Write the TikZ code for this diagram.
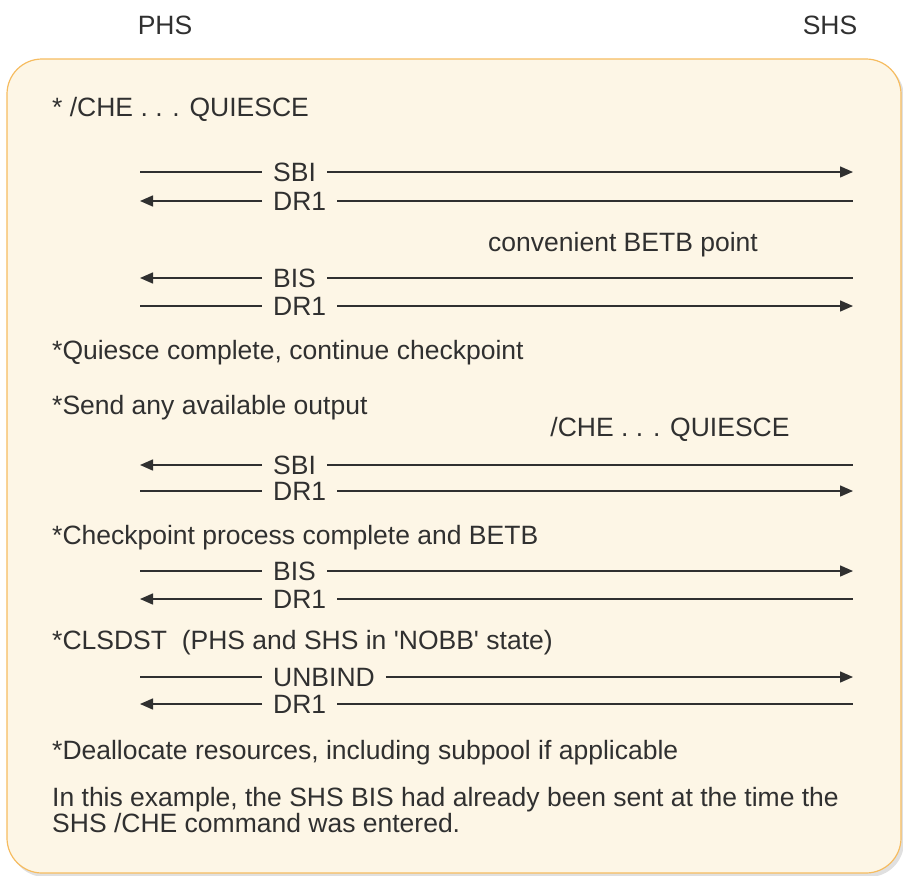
\documentclass[tikz,border=0pt]{standalone}
\usepackage{fontspec}
\setmainfont{Liberation Sans}
\usepackage{tikz}
\usetikzlibrary{arrows.meta}

\definecolor{boxfill}{HTML}{FDF6E6}
\definecolor{boxline}{HTML}{F6BC60}
\definecolor{ink}{HTML}{303030}

\begin{document}
\begin{tikzpicture}[x=1pt,y=-1pt,
  every node/.style={font=\fontsize{26.5}{27}\selectfont, text=ink},
  msg/.style={anchor=west, inner xsep=11pt, inner ysep=0pt, text height=19pt, text depth=0pt},
  note/.style={anchor=base west, inner sep=0pt},
  flow/.style={draw=ink, line width=1.5pt},
  tip/.style={-{Triangle[length=13pt,width=11pt]}}]
\useasboundingbox (0,0) rectangle (903,876);

% Hosts
\node[note, anchor=base] (phs) at (165,34) {PHS};
\node[note, anchor=base] (shs) at (830,34) {SHS};

% Frame
\fill[black!12, rounded corners=35pt] (10,62) rectangle (904,877);
\draw[boxline, fill=boxfill, line width=1.2pt, rounded corners=35pt] (7,59) rectangle (901,873);

% Quiesce request
\node[note] (che1) at (52,116) {* /CHE . . . QUIESCE};
\coordinate (p1) at (140,172); \node[msg] (m1) at (262,172) {SBI}; \coordinate (s1) at (853,172);
\draw[flow] (p1) -- (m1.west); \draw[flow, tip] (m1.east) -- (s1);
\coordinate (p2) at (140,201); \node[msg] (m2) at (262,201) {DR1}; \coordinate (s2) at (853,201);
\draw[flow, tip] (m2.west) -- (p2); \draw[flow] (m2.east) -- (s2);

\node[note, anchor=base] (betb) at (623,251) {convenient BETB point};
\coordinate (p3) at (140,278); \node[msg] (m3) at (262,278) {BIS}; \coordinate (s3) at (853,278);
\draw[flow, tip] (m3.west) -- (p3); \draw[flow] (m3.east) -- (s3);
\coordinate (p4) at (140,306); \node[msg] (m4) at (262,306) {DR1}; \coordinate (s4) at (853,306);
\draw[flow] (p4) -- (m4.west); \draw[flow, tip] (m4.east) -- (s4);

% Checkpoint
\node[note] (qdone) at (52,359) {*Quiesce complete, continue checkpoint};
\node[note] (send) at (52,414) {*Send any available output};
\node[note, anchor=base] (che2) at (670,436) {/CHE . . . QUIESCE};
\coordinate (p5) at (140,465); \node[msg] (m5) at (262,465) {SBI}; \coordinate (s5) at (853,465);
\draw[flow, tip] (m5.west) -- (p5); \draw[flow] (m5.east) -- (s5);
\coordinate (p6) at (140,491); \node[msg] (m6) at (262,491) {DR1}; \coordinate (s6) at (853,491);
\draw[flow] (p6) -- (m6.west); \draw[flow, tip] (m6.east) -- (s6);

\node[note] (cdone) at (52,544) {*Checkpoint process complete and BETB};
\coordinate (p7) at (140,571); \node[msg] (m7) at (262,571) {BIS}; \coordinate (s7) at (853,571);
\draw[flow] (p7) -- (m7.west); \draw[flow, tip] (m7.east) -- (s7);
\coordinate (p8) at (140,599); \node[msg] (m8) at (262,599) {DR1}; \coordinate (s8) at (853,599);
\draw[flow, tip] (m8.west) -- (p8); \draw[flow] (m8.east) -- (s8);

% Session end
\node[note] (clsdst) at (52,649) {*CLSDST\ \ (PHS and SHS in \textquotesingle NOBB\textquotesingle\ state)};
\coordinate (p9) at (140,677); \node[msg] (m9) at (262,677) {UNBIND}; \coordinate (s9) at (853,677);
\draw[flow] (p9) -- (m9.west); \draw[flow, tip] (m9.east) -- (s9);
\coordinate (p10) at (140,704); \node[msg] (m10) at (262,704) {DR1}; \coordinate (s10) at (853,704);
\draw[flow, tip] (m10.west) -- (p10); \draw[flow] (m10.east) -- (s10);

\node[note] (dealloc) at (52,759) {*Deallocate resources, including subpool if applicable};
\node[note] (remark1) at (52,806) {In this example, the SHS BIS had already been sent at the time the};
\node[note] (remark2) at (52,832) {SHS /CHE command was entered.};
\end{tikzpicture}
\end{document}
